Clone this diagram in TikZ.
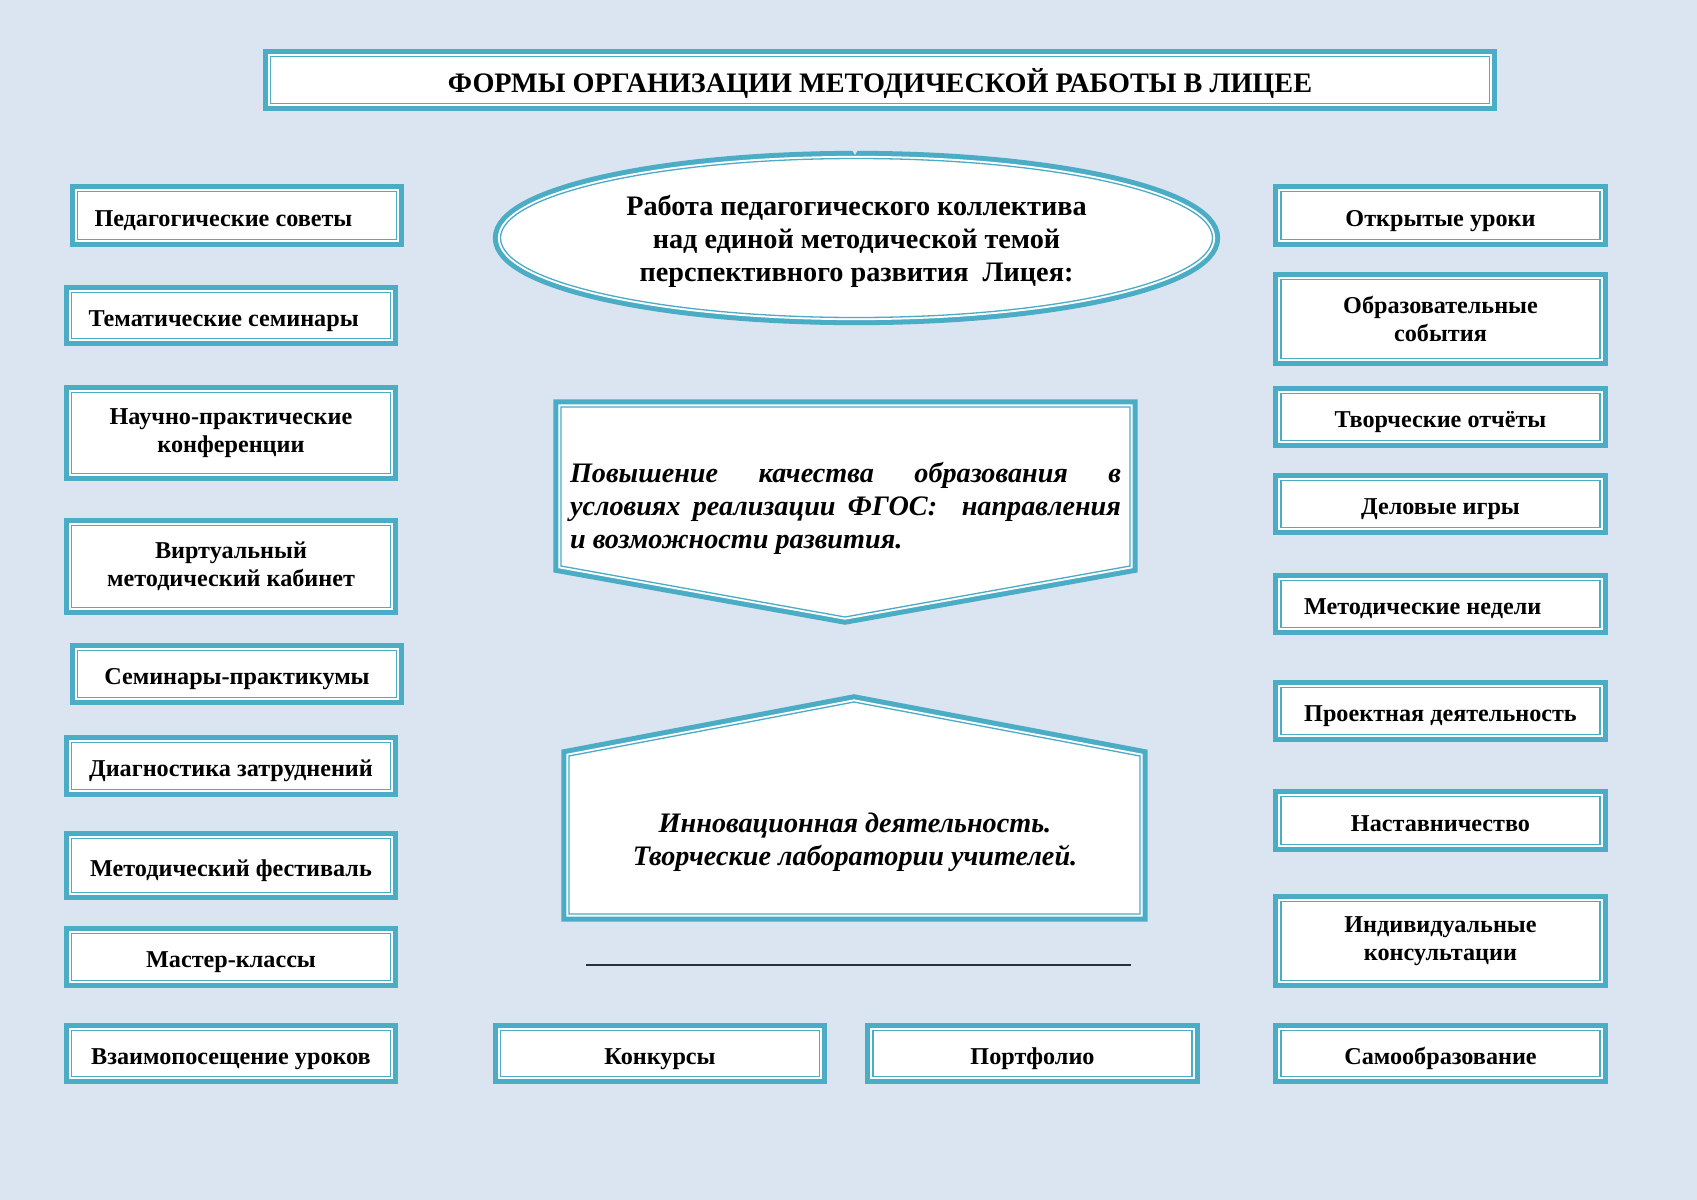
\documentclass[tikz,border=0pt]{standalone}
\usepackage{fontspec}
\setmainfont{Liberation Serif}
\usetikzlibrary{shapes.geometric}
\definecolor{pagebg}{HTML}{DBE5F1}
\definecolor{framec}{HTML}{4BACC6}
\definecolor{rulec}{HTML}{2B2F38}
\newcommand{\pxu}{0.4961pt}
\tikzset{
  frame/.style={fill=white, draw=white, line width=2.6pt, line join=miter,
    preaction={draw=framec, line width=7.6pt, line join=miter},
    postaction={draw=framec, line width=0.65pt, line join=miter}},
  box/.style={frame, font=\bfseries\fontsize{12}{14}\selectfont, align=center,
    inner sep=0pt, minimum width=319*\pxu},
  item/.style={box, minimum height=#1*\pxu, text height=12pt, text depth=1.2pt},
  item/.default=47,
  itemtwo/.style={box, minimum height=#1*\pxu},
  leftitem/.style={align=flush left, inner xsep=#1*\pxu, text width=(319-2*#1)*\pxu}
}
\begin{document}
\begin{tikzpicture}[x=\pxu, y=-\pxu]
  \fill[pagebg] (0, 0) rectangle (1697, 1200);
  \useasboundingbox (0, 0) rectangle (1697, 1200);
  % title
  \node[frame, inner sep=0pt, minimum width=1219*\pxu, minimum height=47*\pxu,
    text height=12.4pt, text depth=0pt,
    font=\bfseries\fontsize{14}{16}\selectfont] (title) at (880, 80)
    {ФОРМЫ ОРГАНИЗАЦИИ МЕТОДИЧЕСКОЙ РАБОТЫ В ЛИЦЕЕ};
  % theme
  \node[frame, ellipse, inner sep=0pt, minimum width=712*\pxu, minimum height=159*\pxu,
    align=center, text depth=0pt, font=\bfseries\fontsize{14}{16.4}\selectfont] (theme) at (856.5, 238)
    {Работа педагогического коллектива\\над единой методической темой\\перспективного развития~ Лицея:};
  \fill[pagebg] (850.5, 147) -- (859.5, 147) -- (855, 155) -- cycle;
  % quality
  \path[frame] (561, 407) -- (1130, 407) -- (1130, 566) -- (845, 617) -- (561, 566) -- cycle;
  \node[text width=551*\pxu, align=justify, inner sep=0pt,
    font=\bfseries\itshape\fontsize{14}{16.4}\selectfont] (quality) at (845.5, 508)
    {Повышение качества образования в\linebreak условиях реализации ФГОС:~ направления\linebreak и возможности развития.};
  % innovation
  \path[frame] (569, 756) -- (854, 702) -- (1140, 756) -- (1140, 914) -- (569, 914) -- cycle;
  \node[align=center, inner sep=0pt, font=\bfseries\itshape\fontsize{14}{16.4}\selectfont]
    (innov) at (855, 842) {Инновационная деятельность.\\Творческие лаборатории учителей.};
  \coordinate (ruleL) at (586, 965);
  \coordinate (ruleR) at (1131, 965);
  \draw[rulec, line width=1pt] (ruleL) -- (ruleR);
  % left column
  \node[item=48, leftitem=17] (ped) at (237, 215.5) {Педагогические советы};
  \node[item=46, leftitem=17] (tem) at (231, 315.5) {Тематические семинары};
  \node[itemtwo=81] (conf) at (231, 433) {Научно-практические\\конференции};
  \node[itemtwo=82] (virt) at (231, 566.5) {Виртуальный\\методический кабинет};
  \node[item] (prak) at (237, 674) {Семинары-практикумы};
  \node[item] (diag) at (231, 766) {Диагностика затруднений};
  \node[item=54] (fest) at (231, 865.5) {Методический фестиваль};
  \node[item] (mast) at (231, 957) {Мастер-классы};
  \node[item=46] (vzai) at (231, 1053.5) {Взаимопосещение уроков};
  % bottom row
  \node[item=46] (konk) at (660, 1053.5) {Конкурсы};
  \node[item=46] (port) at (1032.5, 1053.5) {Портфолио};
  % right column
  \node[item=48] (otkr) at (1440.5, 215.5) {Открытые уроки};
  \node[itemtwo=79] (sob) at (1440.5, 319) {Образовательные\\события};
  \node[item] (otch) at (1440.5, 417) {Творческие отчёты};
  \node[item] (igr) at (1440.5, 504) {Деловые игры};
  \node[item, leftitem=23] (ned) at (1440.5, 604) {Методические недели};
  \node[item] (proj) at (1440.5, 711) {Проектная деятельность};
  \node[item=48] (nast) at (1440.5, 820.5) {Наставничество};
  \node[itemtwo=79] (kons) at (1440.5, 941) {Индивидуальные\\консультации};
  \node[item=46] (samo) at (1440.5, 1053.5) {Самообразование};
\end{tikzpicture}
\end{document}
